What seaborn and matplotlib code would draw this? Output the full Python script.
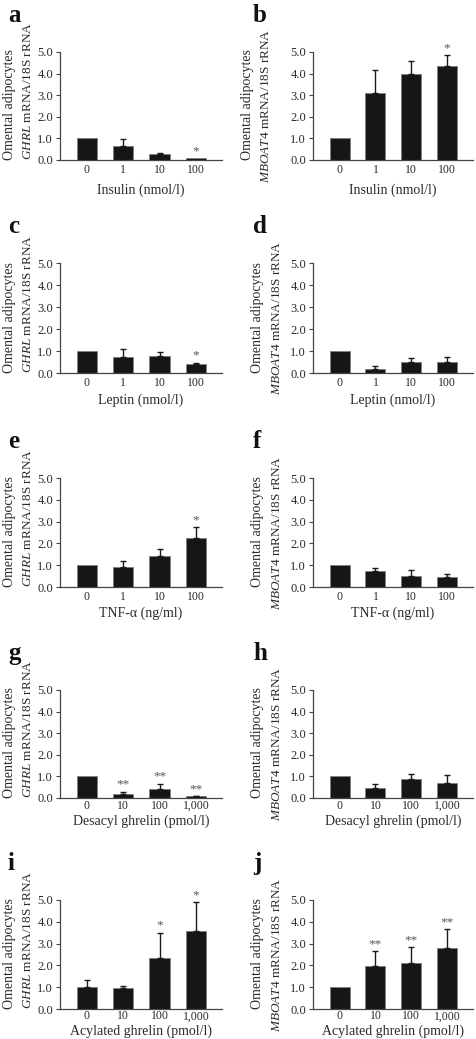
import numpy as np
import pandas as pd
import seaborn as sns
import matplotlib.pyplot as plt

# Dose categories
insulin_doses = ["0", "1", "10", "100"]
leptin_doses = ["0", "1", "10", "100"]
tnf_doses = ["0", "1", "10", "100"]
ghrelin_doses = ["0", "10", "100", "1,000"]

# Relative expression (mean) and upper error per bar
ghrl_insulin = [1.0, 0.63, 0.26, 0.08]
ghrl_insulin_err = [0.0, 0.33, 0.05, 0.0]
mboat4_insulin = [1.0, 3.08, 4.0, 4.35]
mboat4_insulin_err = [0.0, 1.1, 0.57, 0.5]

ghrl_leptin = [1.0, 0.71, 0.76, 0.42]
ghrl_leptin_err = [0.0, 0.36, 0.18, 0.05]
mboat4_leptin = [1.0, 0.19, 0.48, 0.51]
mboat4_leptin_err = [0.0, 0.13, 0.21, 0.23]

ghrl_tnf = [1.0, 0.9, 1.42, 2.25]
ghrl_tnf_err = [0.0, 0.3, 0.33, 0.48]
mboat4_tnf = [1.03, 0.73, 0.49, 0.45]
mboat4_tnf_err = [0.0, 0.13, 0.29, 0.13]

ghrl_desacyl = [1.0, 0.17, 0.43, 0.07]
ghrl_desacyl_err = [0.0, 0.12, 0.23, 0.02]
mboat4_desacyl = [1.0, 0.45, 0.88, 0.68]
mboat4_desacyl_err = [0.0, 0.18, 0.24, 0.37]

ghrl_acylated = [1.0, 0.98, 2.36, 3.57]
ghrl_acylated_err = [0.33, 0.06, 1.13, 1.33]
mboat4_acylated = [1.02, 1.96, 2.11, 2.8]
mboat4_acylated_err = [0.0, 0.7, 0.72, 0.85]

# Significance marks
stars_a = ["", "", "", "*"]
stars_b = ["", "", "", "*"]
stars_c = ["", "", "", "*"]
stars_d = ["", "", "", ""]
stars_e = ["", "", "", "*"]
stars_f = ["", "", "", ""]
stars_g = ["", "**", "**", "**"]
stars_h = ["", "", "", ""]
stars_i = ["", "", "*", "*"]
stars_j = ["", "**", "**", "**"]

xlabels = [
    "Insulin (nmol/l)",
    "Leptin (nmol/l)",
    "TNF-\u03b1 (ng/ml)",
    "Desacyl ghrelin (pmol/l)",
    "Acylated ghrelin (pmol/l)",
]
ylabel_genes = [r"$\mathit{GHRL}$ mRNA/18S rRNA", r"$\mathit{MBOAT4}$ mRNA/18S rRNA"]

panels = [
    ("a", 0, 0, insulin_doses, ghrl_insulin, ghrl_insulin_err, stars_a),
    ("b", 0, 1, insulin_doses, mboat4_insulin, mboat4_insulin_err, stars_b),
    ("c", 1, 0, leptin_doses, ghrl_leptin, ghrl_leptin_err, stars_c),
    ("d", 1, 1, leptin_doses, mboat4_leptin, mboat4_leptin_err, stars_d),
    ("e", 2, 0, tnf_doses, ghrl_tnf, ghrl_tnf_err, stars_e),
    ("f", 2, 1, tnf_doses, mboat4_tnf, mboat4_tnf_err, stars_f),
    ("g", 3, 0, ghrelin_doses, ghrl_desacyl, ghrl_desacyl_err, stars_g),
    ("h", 3, 1, ghrelin_doses, mboat4_desacyl, mboat4_desacyl_err, stars_h),
    ("i", 4, 0, ghrelin_doses, ghrl_acylated, ghrl_acylated_err, stars_i),
    ("j", 4, 1, ghrelin_doses, mboat4_acylated, mboat4_acylated_err, stars_j),
]

sns.set_style("ticks")
plt.rcParams["font.family"] = ["Liberation Serif", "DejaVu Serif"]
plt.rcParams["mathtext.fontset"] = "custom"
plt.rcParams["mathtext.rm"] = "Liberation Serif"
plt.rcParams["mathtext.it"] = "Liberation Serif:italic"

TEXT = "#2a2a2a"
BAR = "#161616"

# layout in pixels
W, H = 476, 1039
row_top = [52, 263, 478, 690, 900]
row_bottom = [160, 373, 587, 798, 1009]
col_left = [60, 313]
col_right = [222, 473]
xlabel_gap = [30, 27, 26, 23, 22]
xtick_pad = [3, 3, 3, 1.5, 1]
ylab_x = [(10, 28), (258, 277)]
letter_x = [8, 253]

fig = plt.figure(figsize=(W / 100, H / 100), dpi=100)

for letter, r, c, doses, means, errs, stars in panels:
    ax = fig.add_axes([
        col_left[c] / W,
        1 - row_bottom[r] / H,
        (col_right[c] - col_left[c]) / W,
        (row_bottom[r] - row_top[r]) / H,
    ])
    df = pd.DataFrame({"dose": doses, "value": means})
    sns.barplot(data=df, x="dose", y="value", order=doses, color=BAR,
                saturation=1, edgecolor="#808080", linewidth=0.6,
                width=0.56, errorbar=None, ax=ax)

    xs = np.array([p.get_x() + p.get_width() / 2 for p in ax.patches])
    hs = np.array([p.get_height() for p in ax.patches])
    errs = np.array(errs)
    keep = errs > 0
    ax.errorbar(xs[keep], hs[keep], yerr=[np.zeros(keep.sum()), errs[keep]],
                fmt="none", ecolor="#1a1a1a", elinewidth=1.0, capsize=2.3,
                capthick=1.0)
    for x, h, e, s in zip(xs, hs, errs, stars):
        if s:
            ax.annotate(s, (x, h + e), xytext=(0, 3), textcoords="offset points",
                        ha="center", va="baseline", fontsize=9.5, color="#555555")

    ax.set_ylim(0, 5)
    ax.set_yticks(np.arange(0, 6, 1))
    ax.set_yticklabels([f"{v:.1f}" for v in np.arange(0, 6, 1)])
    ax.set_xlim(-0.74, 3.72)
    ax.set_xlabel("")
    ax.set_ylabel("")
    sns.despine(ax=ax)
    for side in ["left", "bottom"]:
        ax.spines[side].set_color("#444444")
        ax.spines[side].set_linewidth(0.9)
    ax.tick_params(axis="y", length=3, width=0.8, color="#444444", pad=2,
                   labelsize=9, labelcolor=TEXT)
    ax.tick_params(axis="x", length=0, pad=xtick_pad[r], labelsize=8.5,
                   labelcolor=TEXT)

    ax.annotate(xlabels[r], xy=(0.5, 0), xycoords="axes fraction",
                xytext=(0, -xlabel_gap[r] * 0.72), textcoords="offset points",
                ha="center", va="center", fontsize=10, color=TEXT)

    # two-line y label
    x1, x2 = ylab_x[c]
    if letter == "b":
        x1, x2 = 247, 266
    fig.text(x1 / W, 1 - row_bottom[r] / H, "Omental adipocytes", rotation=90,
             rotation_mode="anchor", ha="left", va="center", fontsize=10,
             color=TEXT)
    if c == 0:
        fig.text(x2 / W, 1 - row_bottom[r] / H, ylabel_genes[c], rotation=90,
                 rotation_mode="anchor", ha="left", va="center", fontsize=9.5,
                 color=TEXT)
    else:
        mid = (row_top[r] + row_bottom[r]) / 2
        fig.text(x2 / W, 1 - mid / H, ylabel_genes[c], rotation=90,
                 rotation_mode="anchor", ha="center", va="center", fontsize=9.5,
                 color=TEXT)

    fig.text(letter_x[c] / W, 1 - (row_top[r] - 30) / H, letter, fontsize=18,
             fontweight="bold", va="baseline", ha="left", color="#111111")

fig.savefig("out.png", dpi=100)
